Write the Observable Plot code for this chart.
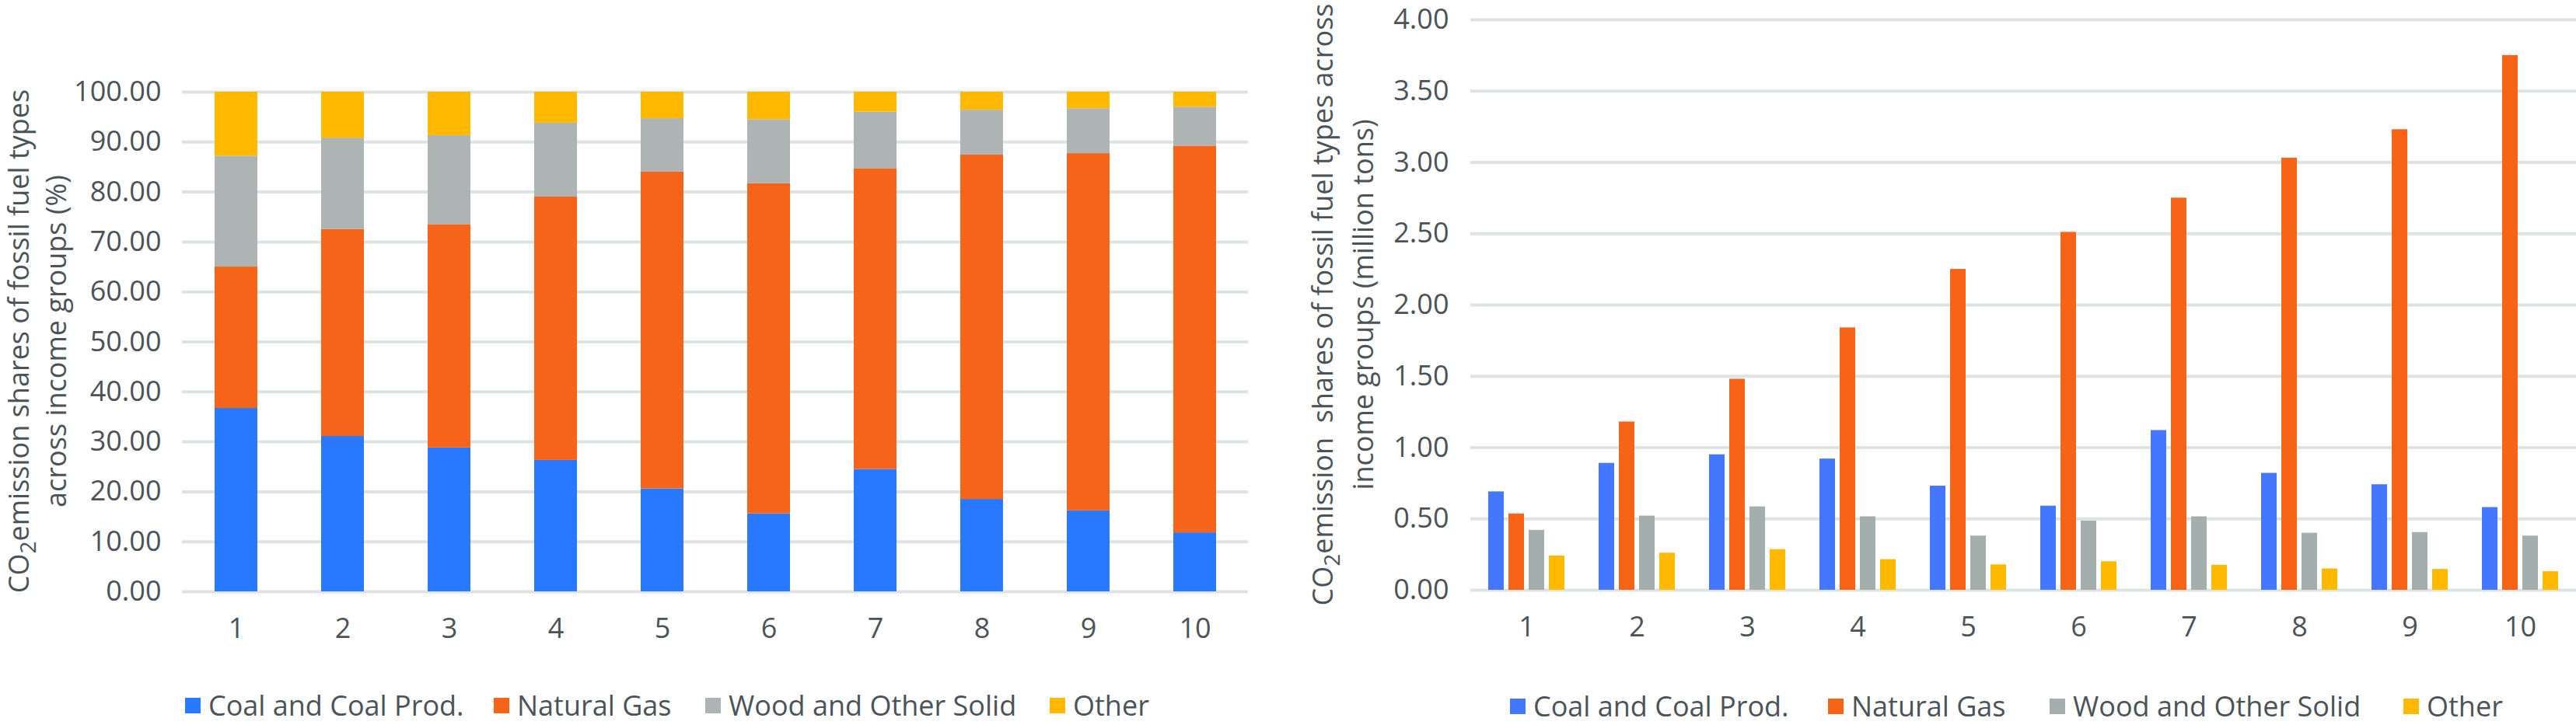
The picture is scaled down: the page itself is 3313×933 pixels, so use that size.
<!DOCTYPE html>
<html>
<head>
<meta charset="utf-8">
<script src="https://cdn.jsdelivr.net/npm/d3@7"></script>
<script src="https://cdn.jsdelivr.net/npm/@observablehq/plot@0.6"></script>
<style>
  html, body { margin: 0; padding: 0; background: #ffffff; }
  #page { position: relative; width: 3313px; height: 933px; overflow: hidden; font-family: "Open Sans", sans-serif; color: #4b5358; }
  .chart { position: absolute; top: 0; }
  .ytitle { position: absolute; text-align: center; font-size: 36px; white-space: nowrap; width: max-content; transform: translate(-50%, -50%) rotate(-90deg); transform-origin: center center; }
  .ytitle sub { font-size: 0.78em; vertical-align: -0.32em; line-height: 0; }
  .legend-item { position: absolute; display: flex; align-items: center; font-size: 36px; white-space: nowrap; line-height: 1; }
  .legend-item .sw { width: 20px; height: 20px; margin-right: 10px; flex: none; }
</style>
</head>
<body>
<div id="page"></div>
<script>
// ---- data ----
const groups = ["1", "2", "3", "4", "5", "6", "7", "8", "9", "10"];
const fuels = ["Coal and Coal Prod.", "Natural Gas", "Wood and Other Solid", "Other"];

// left: CO2 emission shares (%)
const shareCoal  = [36.7, 31.1, 28.8, 26.3, 20.6, 15.6, 24.5, 18.5, 16.2, 11.8];
const shareGas   = [28.3, 41.4, 44.7, 52.7, 63.4, 66.1, 60.2, 68.9, 71.5, 77.4];
const shareWood  = [22.2, 18.3, 17.8, 14.8, 10.7, 12.8, 11.3, 9.0, 9.0, 7.8];
const shareOther = [12.8, 9.2, 8.7, 6.2, 5.3, 5.5, 4.0, 3.6, 3.3, 3.0];

// right: CO2 emission (million tons)
const tonsCoal  = [0.69, 0.89, 0.95, 0.92, 0.73, 0.59, 1.12, 0.82, 0.74, 0.58];
const tonsGas   = [0.535, 1.18, 1.48, 1.84, 2.25, 2.51, 2.75, 3.03, 3.23, 3.75];
const tonsWood  = [0.42, 0.52, 0.585, 0.515, 0.38, 0.485, 0.515, 0.40, 0.405, 0.38];
const tonsOther = [0.24, 0.26, 0.285, 0.215, 0.178, 0.20, 0.175, 0.15, 0.146, 0.13];

const leftYTicks = [0, 10, 20, 30, 40, 50, 60, 70, 80, 90, 100];
const rightYTicks = [0, 0.5, 1, 1.5, 2, 2.5, 3, 3.5, 4];

const leftColors = ["#2979ff", "#f56418", "#aeb4b4", "#ffb900"];
const rightColors = ["#4477ff", "#f76418", "#a4aeac", "#ffba00"];

// ---- tables ----
const shareSeries = [shareCoal, shareGas, shareWood, shareOther];
const tonsSeries = [tonsCoal, tonsGas, tonsWood, tonsOther];
const shareRows = [];
groups.forEach((g, i) => fuels.forEach((f, j) => shareRows.push({group: g, fuel: f, value: shareSeries[j][i]})));
const tonsRows = [];
fuels.forEach((f, j) => groups.forEach((g, i) => tonsRows.push({group: g, fuel: f, value: tonsSeries[j][i]})));

const page = document.getElementById("page");
const textColor = "#4b5358";
const gridColor = "#dde3e2";

// ---- left chart ----
const left = Plot.plot({
  width: 1650, height: 933,
  marginLeft: 234, marginRight: 45, marginTop: 118, marginBottom: 172,
  style: {fontFamily: "Open Sans", fontSize: "36px", color: textColor, background: "transparent", overflow: "visible"},
  x: {domain: groups, paddingInner: 0.6, paddingOuter: 0.3, label: null, tickSize: 0, tickPadding: 34},
  y: {domain: [0, 100], ticks: leftYTicks, tickFormat: d => d.toFixed(2), label: null, tickSize: 0, tickPadding: 27},
  color: {domain: fuels, range: leftColors},
  marks: [
    Plot.gridY(leftYTicks, {stroke: gridColor, strokeOpacity: 1, strokeWidth: 4}),
    Plot.barY(shareRows, {x: "group", y: "value", fill: "fuel", z: "fuel"})
  ]
});
left.classList.add("chart");
left.style.left = "0px";
page.appendChild(left);

// ---- right chart ----
const step = 1422 / 10, barW = 20, barGap = 26;
const rightMarks = [Plot.gridY(rightYTicks, {stroke: gridColor, strokeOpacity: 1, strokeWidth: 4})];
fuels.forEach((f, j) => {
  rightMarks.push(Plot.barY(tonsRows.filter(d => d.fuel === f), {x: "group", y: "value", fill: "fuel", dx: (j - 1.5) * barGap}));
});
const pad = 1 - barW / step;
const right = Plot.plot({
  width: 1663, height: 933,
  marginLeft: 241, marginRight: 0, marginTop: 25, marginBottom: 174,
  style: {fontFamily: "Open Sans", fontSize: "36px", color: textColor, background: "transparent", overflow: "visible"},
  x: {domain: groups, paddingInner: pad, paddingOuter: pad / 2, label: null, tickSize: 0, tickPadding: 34},
  y: {domain: [0, 4], ticks: rightYTicks, tickFormat: d => d.toFixed(2), label: null, tickSize: 0, tickPadding: 28},
  color: {domain: fuels, range: rightColors},
  marks: rightMarks
});
right.classList.add("chart");
right.style.left = "1650px";
page.appendChild(right);

// ---- y titles ----
function yTitle(html, cx, cy, lh) {
  const d = document.createElement("div");
  d.className = "ytitle";
  d.innerHTML = html;
  d.style.lineHeight = lh + "px";
  d.style.left = cx + "px";
  d.style.top = cy + "px";
  page.appendChild(d);
}
yTitle("CO<sub>2</sub>emission shares of fossil fuel types<br>across income groups (%)", 48, 439, 48);
yTitle("CO<sub>2</sub>emission&nbsp; shares of fossil fuel types across<br>income groups (million tons)", 1727, 392, 52);

// ---- legends ----
function legend(colors, xs, cy) {
  fuels.forEach((f, j) => {
    const item = document.createElement("div");
    item.className = "legend-item";
    item.style.left = xs[j] + "px";
    item.style.top = (cy - 20) + "px";
    item.style.height = "40px";
    item.innerHTML = `<span class="sw" style="background:${colors[j]}"></span><span>${f}</span>`;
    page.appendChild(item);
  });
}
legend(leftColors, [238, 635, 907, 1350], 908);
legend(rightColors, [1942, 2351, 2636, 3091], 909);
</script>
</body>
</html>
